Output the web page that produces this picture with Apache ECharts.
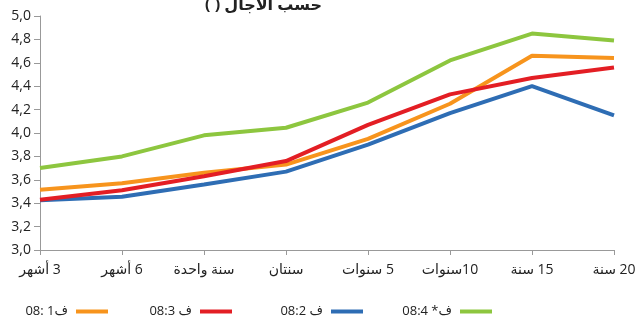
<!DOCTYPE html>
<html>
<head>
<meta charset="utf-8">
<style>
  html, body { margin: 0; padding: 0; background: #fff; }
  #chart { width: 640px; height: 322px; }
</style>
<script src="https://cdn.jsdelivr.net/npm/echarts@6/dist/echarts.min.js"></script>
</head>
<body>
<div id="chart"></div>
<script>
const categories = ['3 أشهر', '6 أشهر', 'سنة واحدة', 'سنتان', '5 سنوات', '10سنوات', '15 سنة', '20 سنة']

const names = ['08: 1ف', '08:3 ف', '08:2 ف', '08:4 *ف']
const colors = ['#f7941d', '#e31e24', '#2e6db4', '#8dc63f']

const orange = [3.515, 3.57, 3.66, 3.73, 3.95, 4.25, 4.66, 4.64]
const red = [3.43, 3.51, 3.63, 3.76, 4.07, 4.33, 4.47, 4.56]
const blue = [3.425, 3.455, 3.56, 3.67, 3.90, 4.17, 4.40, 4.15]
const green = [3.70, 3.80, 3.98, 4.045, 4.26, 4.62, 4.85, 4.79]

const values = [orange, red, blue, green]
// right edge of each legend swatch, measured from the right side
const legendRight = [532, 408, 277, 148]

// split into words / numbers / marks, each drawn as its own rich token
const pieces = s => s.split(/(\s+|\d+|\*)/).filter(Boolean)
const tok = p => '{t|' + p + '}'
const ltrTokens = s => pieces(s).map(tok).join('')
const rtlTokens = s => pieces(s).reverse().map(tok).join('')

const font = "'Open Sans', 'DejaVu Sans', sans-serif"
const chart = echarts.init(document.getElementById('chart'))

const option = {
  animation: false,
  textStyle: { fontFamily: font },
  graphic: [{
    type: 'text',
    right: 318,
    top: -3,
    style: {
      text: '{t|( )}{t| }{t|الآجال}{t| }{t|حسب}',
      rich: { t: { font: 'bold 16px ' + font, fill: '#222' } }
    }
  }],
  legend: names.map((n, i) => ({
    data: [n],
    right: legendRight[i],
    top: 305,
    align: 'right',
    icon: 'rect',
    itemWidth: 32,
    itemHeight: 4,
    itemGap: 5,
    padding: 0,
    formatter: s => ltrTokens(s),
    textStyle: {
      fontSize: 13, color: '#222', fontFamily: font, padding: [0, 3, 0, 0],
      rich: { t: { fontSize: 13, color: '#222', fontFamily: font } }
    }
  })),
  grid: { left: 40, right: 26, top: 16, bottom: 72 },
  xAxis: {
    type: 'category',
    data: categories,
    boundaryGap: false,
    axisLine: { lineStyle: { color: '#999', width: 1 } },
    axisTick: { length: 5, lineStyle: { color: '#999' } },
    axisLabel: {
      color: '#222', fontSize: 14, margin: 13, interval: 0,
      formatter: s => rtlTokens(s),
      rich: { t: { fontSize: 14, color: '#222', fontFamily: font } }
    }
  },
  yAxis: {
    type: 'value',
    min: 3.0,
    max: 5.0,
    interval: 0.2,
    splitLine: { show: false },
    axisLine: { show: true, lineStyle: { color: '#999', width: 1 } },
    axisTick: { show: true, length: 6, lineStyle: { color: '#999' } },
    axisLabel: {
      color: '#222',
      fontSize: 14,
      margin: 9,
      formatter: v => v.toFixed(1).replace('.', ',')
    }
  },
  series: [0, 2, 1, 3].map(i => ({
    name: names[i],
    type: 'line',
    data: values[i],
    symbol: 'none',
    color: colors[i],
    lineStyle: { width: 4, color: colors[i] }
  }))
}

chart.setOption(option)
</script>
</body>
</html>
